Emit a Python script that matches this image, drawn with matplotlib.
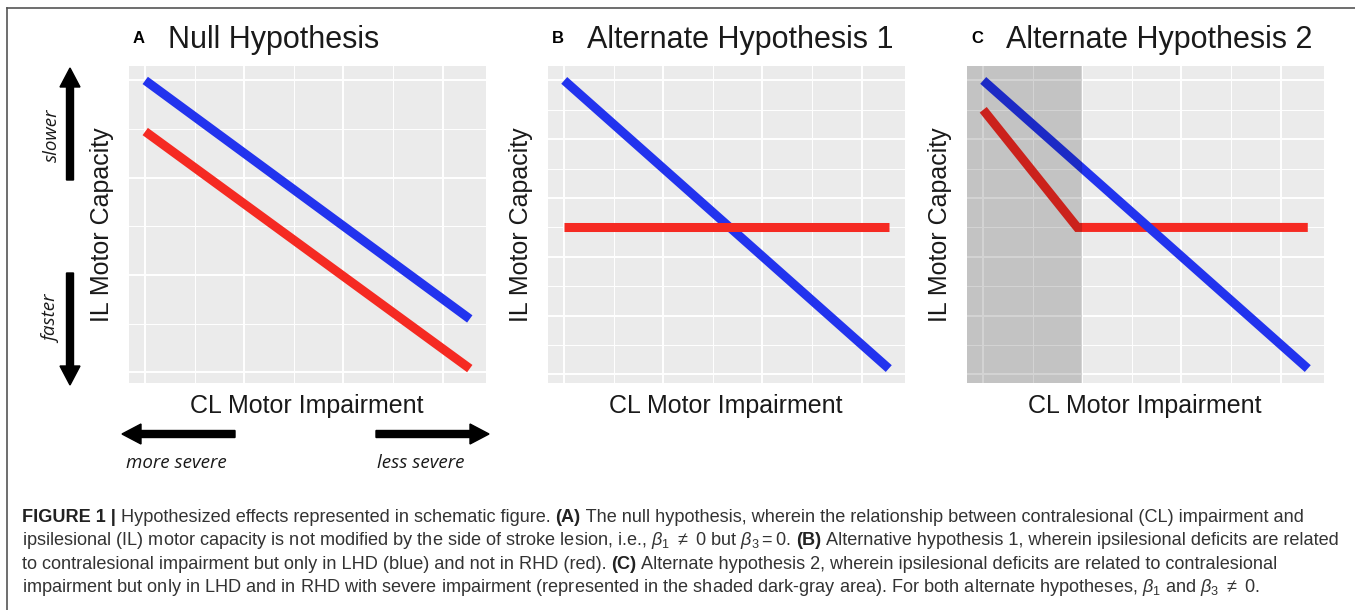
import matplotlib.pyplot as plt
from matplotlib.patches import FancyArrow
from matplotlib.lines import Line2D
from matplotlib.transforms import IdentityTransform

plt.rcParams['font.family'] = ['Liberation Sans', 'DejaVu Sans']
plt.rcParams['mathtext.fontset'] = 'custom'
plt.rcParams['mathtext.rm'] = 'Liberation Sans'
plt.rcParams['mathtext.it'] = 'Liberation Sans:italic'
plt.rcParams['mathtext.bf'] = 'Liberation Sans:bold'

W, H = 1355, 610

# ---------------------------------------------------------------- data
panel_labels = ["A", "B", "C"]
panel_titles = ["Null Hypothesis", "Alternate Hypothesis 1", "Alternate Hypothesis 2"]
x_label = "CL Motor Impairment"
y_label = "IL Motor Capacity"

impairment = [0, 6.55]          # CL impairment, severe -> mild
blue_a = [6.0, 1.1]             # LHD, null hypothesis
red_a = [4.95, 0.08]            # RHD, null hypothesis
blue_b = [10.0, 0.2]
red_b = [5.0, 5.0]
blue_c = [10.0, 0.2]
red_c_x = [0, 1.9, 6.55]
red_c = [9.0, 5.0, 5.0]
shade_end_c = 2.0               # severe impairment zone in C

x_major = [0, 2, 4, 6]
x_minor = [1, 3, 5]
y_major_a = [0, 2, 4, 6]
y_minor_a = [1, 3, 5]
y_major_bc = [0, 2, 4, 6, 8, 10]
y_minor_bc = [1, 3, 5, 7, 9]

caption_lines = [
    [("FIGURE 1 |", "bold"), (" Hypothesized effects represented in schematic figure. ", "normal"),
     ("(A)", "bold"), (" The null hypothesis, wherein the relationship between contralesional (CL) impairment and", "normal")],
    [("ipsilesional (IL) motor capacity is not modified by the side of stroke lesion, i.e., "
      "$\\beta_1\\ \\neq$ 0 but $\\beta_3 = 0$. ", "normal"),
     ("(B)", "bold"), (" Alternative hypothesis 1, wherein ipsilesional deficits are related", "normal")],
    [("to contralesional impairment but only in LHD (blue) and not in RHD (red). ", "normal"),
     ("(C)", "bold"), (" Alternate hypothesis 2, wherein ipsilesional deficits are related to contralesional", "normal")],
    [("impairment but only in LHD and in RHD with severe impairment (represented in the shaded dark-gray area). "
      "For both alternate hypotheses, $\\beta_1$ and $\\beta_3\\ \\neq$ 0.", "normal")],
]

BLUE = "#2233ee"
RED = "#f52a22"


def px(x, y):
    # pixel position (from top-left) -> figure fraction
    return x / W, 1 - y / H


def expand(vals):
    lo, hi = min(vals), max(vals)
    pad = 0.05 * (hi - lo)
    return lo - pad, hi + pad


fig = plt.figure(figsize=(W / 100, H / 100), dpi=100)

panels = [
    (129, [(impairment, blue_a, BLUE), (impairment, red_a, RED)], y_major_a, y_minor_a, None),
    (548, [(impairment, blue_b, BLUE), (impairment, red_b, RED)], y_major_bc, y_minor_bc, None),
    (967, [(red_c_x, red_c, RED), (impairment, blue_c, BLUE)], y_major_bc, y_minor_bc, shade_end_c),
]

for i, (left, series, ymaj, ymin, shade) in enumerate(panels):
    ax = fig.add_axes([left / W, 1 - 383 / H, 357 / W, 317 / H])
    ax.set_facecolor("#ebebeb")
    for s in ax.spines.values():
        s.set_visible(False)
    ax.set_axisbelow(True)
    ax.set_xticks(x_major)
    ax.set_xticks(x_minor, minor=True)
    ax.set_yticks(ymaj)
    ax.set_yticks(ymin, minor=True)
    ax.grid(which="major", color="white", linewidth=1.4)
    ax.grid(which="minor", color="white", linewidth=0.7)
    ax.tick_params(which="both", length=0, labelbottom=False, labelleft=False)

    xs, ys = [], []
    for x, y, c in series:
        ax.plot(x, y, color=c, linewidth=6.5, solid_capstyle="butt", solid_joinstyle="miter")
        xs += list(x)
        ys += list(y)
    xlim = expand(xs)
    ylim = expand(ys)
    ax.set_xlim(xlim)
    ax.set_ylim(ylim)
    if shade is not None:
        ax.axvspan(xlim[0], shade, color="black", alpha=0.17, linewidth=0, zorder=5)

    # titles and axis labels
    fig.text(*px(left + 4, 43), panel_labels[i], fontsize=12, fontweight="bold", va="baseline")
    fig.text(*px(left + 39, 48), panel_titles[i], fontsize=22, va="baseline", color="#1a1a1a")
    fig.text(*px(left + 178, 413), x_label, fontsize=18, ha="center", va="baseline", color="#1a1a1a")
    fig.text(*px(left - 20, 224.5), y_label, fontsize=18, rotation=90, rotation_mode="anchor",
             ha="center", va="baseline", color="#1a1a1a")

# direction arrows next to panel A
arrow_kw = dict(width=7, head_width=20, head_length=19, length_includes_head=True,
                color="black", transform=IdentityTransform())
for x0, y0, x1, y1 in [(70, 180, 70, 68), (70, 273, 70, 385), (235, 434, 122, 434), (376, 434, 489, 434)]:
    fig.add_artist(FancyArrow(x0, H - y0, x1 - x0, y0 - y1, **arrow_kw))

ital = dict(family=["Open Sans", "DejaVu Sans"], style="italic", fontsize=13.5, color="#1a1a1a")
fig.text(*px(57, 135), "slower", rotation=90, rotation_mode="anchor", ha="center", va="baseline", **ital)
fig.text(*px(57, 319), "faster", rotation=90, rotation_mode="anchor", ha="center", va="baseline", **ital)
fig.text(*px(176, 468), "more severe", ha="center", va="baseline", **ital)
fig.text(*px(421, 468), "less severe", ha="center", va="baseline", **ital)

# frame (top and left edges only, the rest is cropped)
fig.add_artist(Line2D([7, W], [H - 8, H - 8], color="#555555", linewidth=1.2, transform=IdentityTransform()))
fig.add_artist(Line2D([7, 7], [H - 8, 0], color="#555555", linewidth=1.2, transform=IdentityTransform()))

# caption, drawn piece by piece so bold parts sit inline
renderer = fig.canvas.get_renderer()
cap_family = ["Liberation Sans Narrow", "Liberation Sans", "DejaVu Sans"]


def seg_width(s, weight, size):
    t = fig.text(0, 0, s + "l", fontsize=size, fontweight=weight, family=cap_family)
    w = t.get_window_extent(renderer).width
    t.remove()
    t = fig.text(0, 0, "l", fontsize=size, fontweight=weight, family=cap_family)
    w -= t.get_window_extent(renderer).width
    t.remove()
    return w


line2_w = sum(seg_width(s, wt, 10) for s, wt in caption_lines[1])
cap_size = 10 * 1315 / line2_w

for line, base in zip(caption_lines, [522, 545, 569, 592]):
    x = 22
    for s, wt in line:
        fig.text(*px(x, base), s, fontsize=cap_size, fontweight=wt, family=cap_family,
                 va="baseline", color="#222222" if wt == "bold" else "#333333")
        x += seg_width(s, wt, cap_size)

fig.savefig("out.png", dpi=100)
